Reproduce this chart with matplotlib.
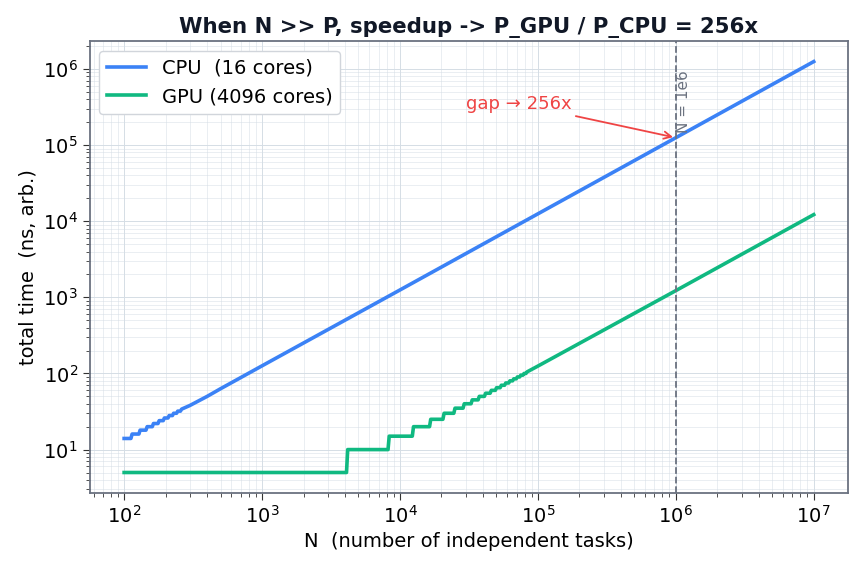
import numpy as np
import matplotlib
matplotlib.use("Agg")
import matplotlib.pyplot as plt

# CPU: step breakpoints (N where the time jumps) and value after the jump
cpu_step_n = [100, 112, 128, 144, 160, 176, 192, 208, 224, 240, 256]
cpu_step_t = [14, 16, 18, 20, 22, 24, 26, 28, 30, 32, 34]
# CPU: smooth part (large N)
cpu_tail_n = [300, 400, 500, 1000, 1e4, 1e5, 1e6, 1e7]
cpu_tail_t = [38, 50, 63, 126, 1250, 12500, 125000, 1250000]

# GPU: step breakpoints and value after the jump
gpu_step_n = [100, 4096, 8192, 12288, 16384, 20480, 24576, 28672, 32768,
              36864, 40960, 45056, 49152, 53248, 57344, 61440, 65536,
              69632, 73728, 77824, 81920]
gpu_step_t = [5, 10, 15, 20, 25, 30, 35, 40, 45, 50, 55, 60, 65, 70, 75,
              80, 85, 90, 95, 100, 105]
gpu_tail_n = [1e5, 1e6, 1e7]
gpu_tail_t = [125, 1225, 12210]

mark_n = 1e6
gap_text_xy = (3e4, 3e5)
gap_point = (1e6, 1.25e5)

CPU_COLOR = "#3b82f6"
GPU_COLOR = "#10b981"
GRID = "#d5dde5"
SPINE = "#6b7280"


def stairs(ns, ts):
    # corner points for a step line (value holds until the next breakpoint)
    xs, ys = [ns[0]], [ts[0]]
    for i in range(1, len(ns)):
        xs += [ns[i], ns[i] * 1.02]
        ys += [ts[i - 1], ts[i]]
    return xs, ys


cx, cy = stairs(cpu_step_n, cpu_step_t)
cx += cpu_tail_n
cy += cpu_tail_t
gx, gy = stairs(gpu_step_n, gpu_step_t)
gx += gpu_tail_n
gy += gpu_tail_t

plt.rcParams["font.family"] = "DejaVu Sans"
fig, ax = plt.subplots(figsize=(8.62, 5.7), dpi=100)

ax.plot(cx, cy, color=CPU_COLOR, lw=2.6, label="CPU  (16 cores)")
ax.plot(gx, gy, color=GPU_COLOR, lw=2.6, label="GPU (4096 cores)")
ax.set_xscale("log")
ax.set_yscale("log")

ax.axvline(mark_n, color=SPINE, ls="--", lw=1.3)
ax.text(mark_n * 1.0, 9.5e5, "N = 1e6", rotation=90, va="top", ha="left",
        color=SPINE, fontsize=11)

ax.annotate("gap \u2192 256x", xy=gap_point, xytext=gap_text_xy,
            color="#ef4444", fontsize=13,
            arrowprops=dict(arrowstyle="->", color="#ef4444", lw=1.3))

ax.grid(True, which="major", color=GRID, lw=0.7)
ax.grid(True, which="minor", color=GRID, lw=0.5, alpha=0.7)
ax.set_axisbelow(True)

for s in ax.spines.values():
    s.set_color(SPINE)
    s.set_linewidth(1.3)
ax.tick_params(which="both", direction="out", color="#333333", labelsize=14)
ax.tick_params(which="major", length=5)
ax.tick_params(which="minor", length=3)

ax.set_xlabel("N  (number of independent tasks)", fontsize=14)
ax.set_ylabel("total time  (ns, arb.)", fontsize=14)
ax.set_title("When N >> P, speedup -> P_GPU / P_CPU = 256x",
             fontsize=15.3, fontweight="bold", color="#111827")

leg = ax.legend(loc="upper left", fontsize=14, framealpha=1,
                edgecolor="#d1d5db", fancybox=True)

fig.subplots_adjust(left=0.104, right=0.984, top=0.928, bottom=0.135)
fig.savefig("out.png", dpi=100, facecolor="white")
